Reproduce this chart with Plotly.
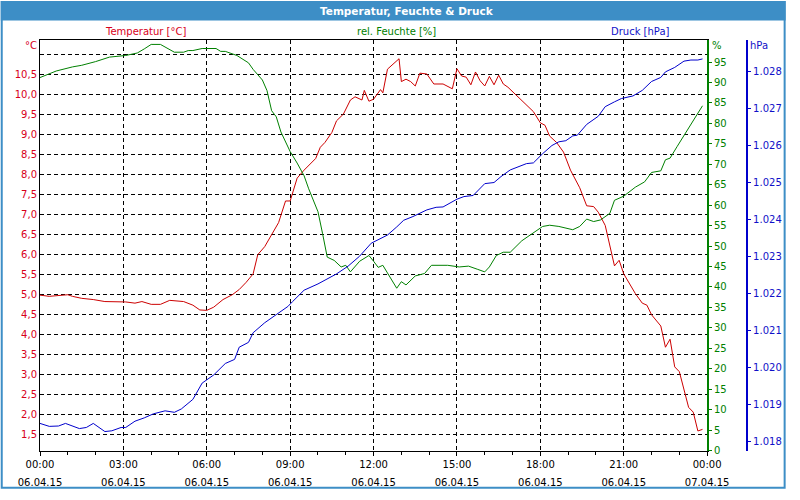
import plotly.graph_objects as go
import pandas as pd

# ---------------- data (minutes after 06.04.15 00:00) ----------------
temp_min = [0,20,60,70,90,115,140,170,185,205,220,240,260,280,310,330,345,360,375,395,
            415,430,445,460,470,485,500,515,530,540,555,570,595,605,615,630,640,655,670,680,
            695,700,710,720,735,740,750,765,775,780,790,800,810,820,835,850,870,890,900,910,
            920,930,940,950,960,970,980,990,1000,1010,1020,1035,1050,1065,1080,1090,1100,1115,1130,1145,
            1165,1180,1195,1205,1220,1230,1240,1250,1260,1285,1300,1310,1320,1340,1350,1360,1370,1380,1400,1410,
            1420,1430]
temp_val = [4.99,4.96,5.00,4.96,4.91,4.88,4.83,4.82,4.82,4.79,4.83,4.76,4.76,4.86,4.83,4.74,4.62,4.61,4.69,4.88,
            5.00,5.13,5.31,5.52,6.00,6.20,6.49,6.80,7.34,7.34,7.91,8.11,8.40,8.68,8.80,9.05,9.34,9.51,9.86,9.94,
            9.86,10.10,9.83,9.88,10.12,10.04,10.63,10.80,10.89,10.32,10.38,10.32,10.21,10.53,10.51,10.26,10.26,10.14,10.64,10.46,
            10.43,10.24,10.56,10.34,10.21,10.45,10.24,10.48,10.26,10.18,10.07,9.90,9.73,9.57,9.29,9.23,8.96,8.80,8.56,8.11,
            7.67,7.22,7.20,7.06,6.73,6.25,5.72,5.86,5.52,5.03,4.79,4.74,4.50,4.22,3.69,3.89,3.20,3.08,2.19,2.07,
            1.60,1.64]

hum_min = [0,35,70,90,120,150,185,210,225,240,260,270,290,310,320,330,350,380,390,400,
           425,450,460,480,490,500,510,520,540,555,570,580,590,600,610,620,635,650,660,670,
           690,710,720,730,740,770,780,790,810,830,845,880,905,925,945,960,970,985,1000,1015,
           1040,1060,1085,1100,1120,1150,1165,1180,1195,1210,1230,1240,1260,1285,1305,1320,1340,1350,1360,1375,
           1390,1410,1430]
hum_val = [91.2,92.8,93.8,94.2,95.1,96.2,96.6,97.2,98.2,99.3,99.3,98.6,97.4,97.4,97.8,97.8,98.3,98.3,97.6,97.6,
           96.6,94.8,93.2,90.6,88.0,83.1,81.6,77.9,73.1,70.3,67.2,64.0,61.2,58.4,53.0,47.3,46.5,44.9,45.3,43.7,
           46.3,47.7,46.3,44.8,45.3,39.7,41.3,40.5,42.7,43.3,45.3,45.3,44.9,45.1,44.3,43.7,44.9,47.7,48.5,48.5,
           51.3,52.9,54.8,55.1,54.8,54.0,54.8,56.6,56.0,56.4,58.0,61.2,62.2,64.4,65.7,68.0,68.4,71.1,71.5,74.3,
           77.1,80.7,84.3]

pres_min = [0,20,40,55,85,100,115,140,155,175,185,205,225,245,270,290,305,330,350,375,
            400,420,430,450,460,485,510,535,545,570,600,620,640,665,690,715,735,750,770,785,
            805,835,855,870,900,915,935,955,960,980,995,1015,1030,1050,1065,1085,1105,1120,1135,1150,
            1160,1180,1205,1220,1240,1255,1280,1300,1320,1340,1350,1370,1390,1405,1420,1430]
pres_val = [1018.49,1018.41,1018.42,1018.49,1018.35,1018.38,1018.49,1018.27,1018.29,1018.38,
            1018.38,1018.55,1018.64,1018.75,1018.83,1018.79,1018.88,1019.14,1019.58,1019.80,
            1020.11,1020.22,1020.55,1020.68,1020.94,1021.21,1021.43,1021.65,1021.78,1022.09,
            1022.26,1022.39,1022.53,1022.74,1023.01,1023.36,1023.49,1023.58,1023.80,1023.98,
            1024.08,1024.26,1024.33,1024.34,1024.55,1024.62,1024.65,1024.90,1024.97,1025.00,
            1025.16,1025.34,1025.41,1025.51,1025.53,1025.78,1026.00,1026.10,1026.13,1026.26,
            1026.28,1026.57,1026.79,1027.05,1027.18,1027.27,1027.34,1027.49,1027.73,1027.84,
            1027.99,1028.11,1028.28,1028.31,1028.31,1028.34]

temp_ticks = [1.5,2.0,2.5,3.0,3.5,4.0,4.5,5.0,5.5,6.0,6.5,7.0,7.5,8.0,8.5,9.0,9.5,10.0,10.5,11.0]
hum_ticks = list(range(0, 100, 5))
pres_ticks = [1018,1019,1020,1021,1022,1023,1024,1025,1026,1027,1028]

title_text = "Temperatur, Feuchte & Druck"
start = pd.Timestamp("2015-04-06 00:00")
end = pd.Timestamp("2015-04-07 00:00")

def to_time(mins):
    return [start + pd.Timedelta(minutes=m) for m in mins]

# ---------------- styling ----------------
FONT = "DejaVu Sans"
RED_L, RED_T = "#CC0000", "#D8001A"
GRN = "#008000"
BLU_L, BLU_T = "#0000CC", "#1010C8"
BAR = "#3D8EC6"

W, H = 800, 500
ML, MR, MT, MB = 40, 20, 40, 14
PW, PH = W - ML - MR, H - MT - MB
PLOT_BOTTOM = 461

def xp(px):
    return (px - ML) / PW

def yp(py):
    return (H - MB - py) / PH

xdom = [0, xp(720)]
ydom = [yp(PLOT_BOTTOM), 1]

fig = go.Figure()
fig.add_trace(go.Scatter(x=to_time(temp_min), y=temp_val, mode="lines",
                         line=dict(color=RED_L, width=1), yaxis="y", xaxis="x"))
fig.add_trace(go.Scatter(x=to_time(hum_min), y=hum_val, mode="lines",
                         line=dict(color=GRN, width=1), yaxis="y2", xaxis="x"))
# pressure drawn against the (identical) date axis that carries the date labels
fig.add_trace(go.Scatter(x=to_time(pres_min), y=pres_val, mode="lines",
                         line=dict(color=BLU_L, width=1), yaxis="y3", xaxis="x2"))

t_lo = 11.0 - (PLOT_BOTTOM - 54.7) / 41.08
t_hi = 11.0 + (54.7 - 40) / 41.08
h_hi = (PLOT_BOTTOM - 40) / 4.194
p_lo = 1028 - (PLOT_BOTTOM - 72.3) / 37.94
p_hi = 1028 + (72.3 - 40) / 37.94

fig.update_layout(
    width=W, height=H, autosize=False,
    margin=dict(l=ML, r=MR, t=MT, b=MB, pad=0),
    paper_bgcolor="white", plot_bgcolor="white",
    showlegend=False,
    font=dict(family=FONT, size=10, color="black"),
    xaxis=dict(
        domain=xdom, anchor="y", type="date",
        range=[start, end],
        tick0=start, dtick=3 * 3600000,
        tickformat="%H:%M",
        showline=True, linecolor="black", linewidth=1, mirror=True,
        ticks="outside", ticklen=4, tickcolor="black",
        minor=dict(dtick=3600000, ticks="outside", ticklen=3, tickcolor="black", showgrid=False),
        showgrid=True, gridcolor="black", gridwidth=1, griddash="4px,3px",
        tickfont=dict(family=FONT, size=10, color="black"),
        zeroline=False,
    ),
    xaxis2=dict(
        domain=xdom, anchor="free", position=0, overlaying="x", type="date",
        range=[start, end],
        tick0=start, dtick=3 * 3600000,
        tickformat="%d.%m.%y",
        showline=False, ticks="", showgrid=False, zeroline=False,
        tickfont=dict(family=FONT, size=10, color="black"),
    ),
    yaxis=dict(
        domain=ydom, anchor="x", range=[t_lo, t_hi],
        tickvals=temp_ticks,
        ticktext=[("" if v == 11.0 else f"{v:.1f}".replace(".", ",")) for v in temp_ticks],
        showline=True, linecolor="black", linewidth=1,
        ticks="", showgrid=True, gridcolor="black", gridwidth=1, griddash="4px,3px",
        tickfont=dict(family=FONT, size=10, color=RED_T),
        zeroline=False,
    ),
    yaxis2=dict(
        domain=ydom, anchor="x", overlaying="y", side="right",
        range=[0, h_hi], tickvals=hum_ticks, ticktext=[str(v) for v in hum_ticks],
        showline=True, linecolor=GRN, linewidth=1.5,
        ticks="outside", ticklen=3, tickcolor=GRN,
        showgrid=False, zeroline=False,
        tickfont=dict(family=FONT, size=10, color=GRN),
    ),
    yaxis3=dict(
        domain=ydom, anchor="free", position=xp(761), overlaying="y", side="right",
        range=[p_lo, p_hi], tickvals=pres_ticks,
        ticktext=[f"{v/1000:.3f}" for v in pres_ticks],
        showline=True, linecolor=BLU_L, linewidth=1.5,
        ticks="outside", ticklen=3, tickcolor=BLU_L,
        showgrid=False, zeroline=False,
        tickfont=dict(family=FONT, size=10, color=BLU_T),
    ),
)

# title bar and outer border
fig.add_shape(type="rect", xref="paper", yref="paper",
              x0=xp(0), x1=xp(W), y0=yp(20), y1=yp(0),
              fillcolor=BAR, line=dict(width=0), layer="below")
fig.add_shape(type="rect", xref="paper", yref="paper",
              x0=xp(1), x1=xp(W - 1), y0=yp(H - 1), y1=yp(1),
              fillcolor="rgba(0,0,0,0)", line=dict(width=2, color=BAR), layer="above")

def label(text, px, py, color, size=10, bold=False):
    fig.add_annotation(text=(f"<b>{text}</b>" if bold else text),
                       xref="paper", yref="paper", x=xp(px), y=yp(py),
                       xanchor="center", yanchor="middle", showarrow=False,
                       font=dict(family=FONT, size=size, color=color))

label(title_text, 414, 10.5, "white", size=10.5, bold=True)
label("Temperatur [°C]", 148, 31.5, RED_T)
label("rel. Feuchte [%]", 403, 31.5, GRN)
label("Druck [hPa]", 652, 31.5, BLU_T)
label("°C", 31, 46, RED_T)
label("%", 730.5, 46, GRN)
label("hPa", 773, 46, BLU_T)

fig.write_html("out.html", config={"responsive": False})
